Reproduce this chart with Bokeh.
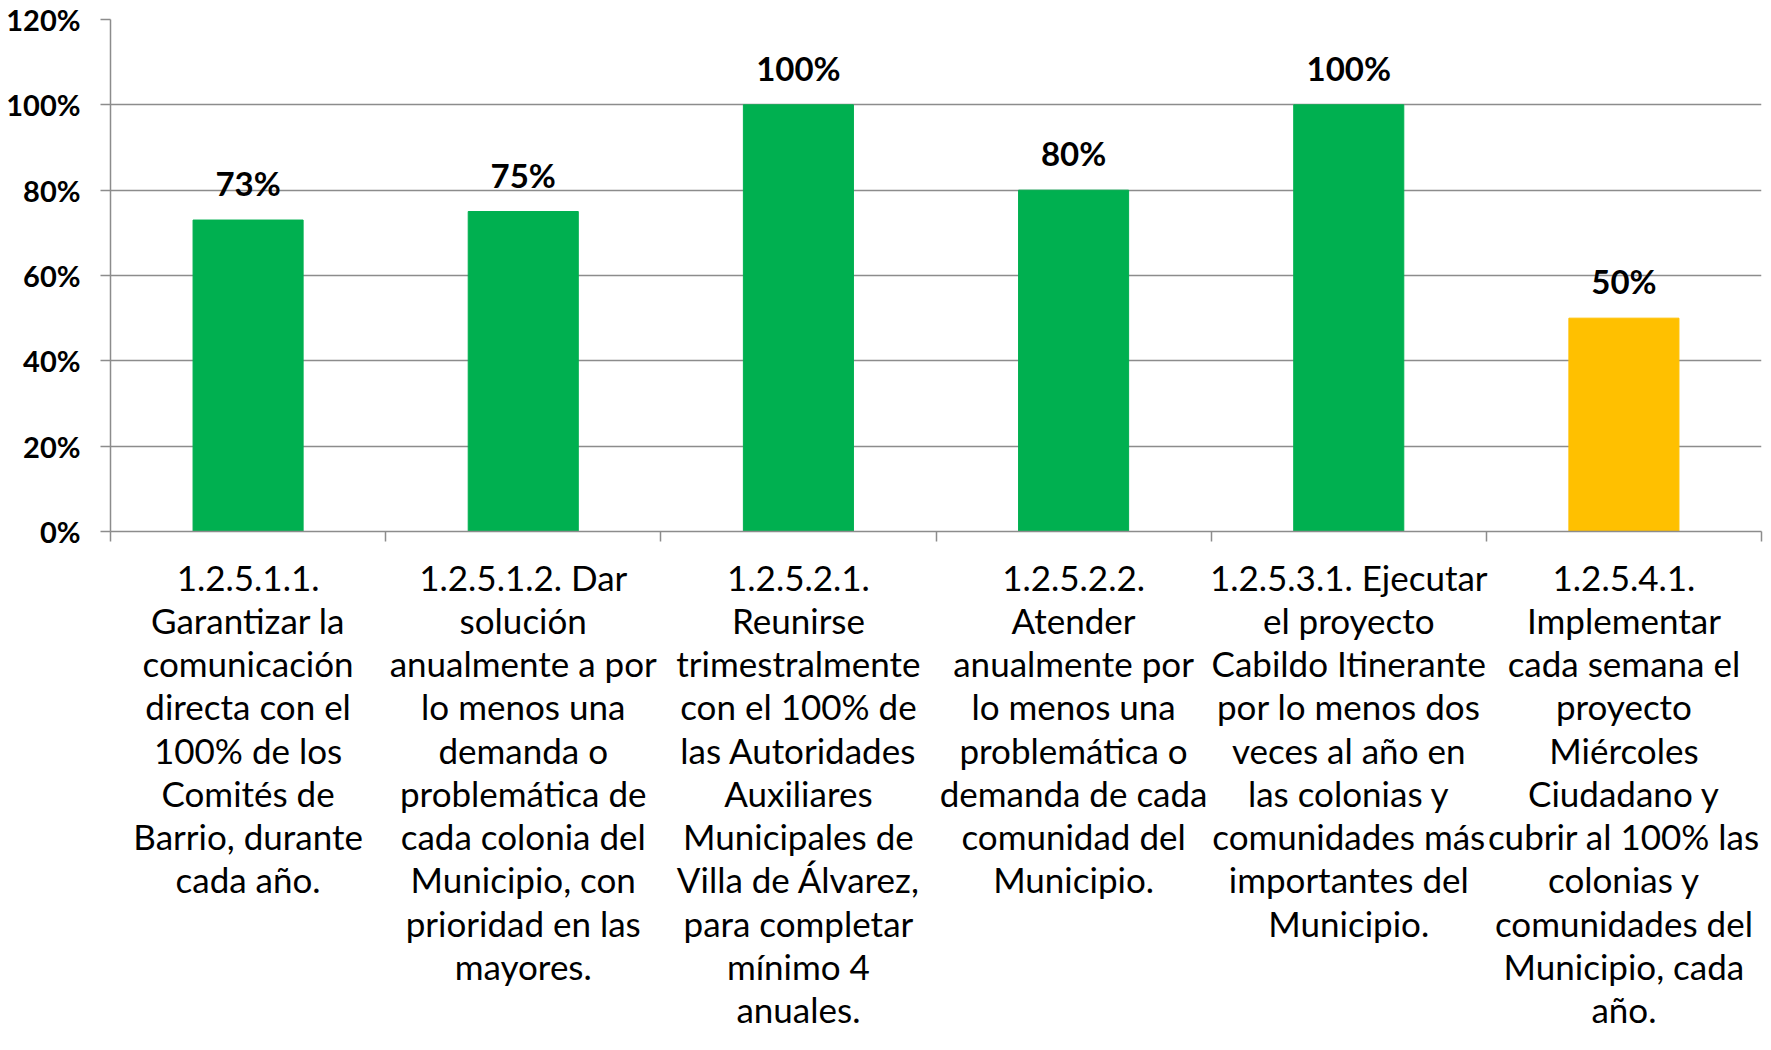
from bokeh.plotting import figure
from bokeh.models import ColumnDataSource, FixedTicker, NumeralTickFormatter, Range1d
from bokeh.core.properties import value
from bokeh.embed import file_html
from bokeh.resources import INLINE

categories = [
    "1.2.5.1.1.\nGarantizar la\ncomunicación\ndirecta con el\n100% de los\nComités de\nBarrio, durante\ncada año.",
    "1.2.5.1.2. Dar\nsolución\nanualmente a por\nlo menos una\ndemanda o\nproblemática de\ncada colonia del\nMunicipio, con\nprioridad en las\nmayores.",
    "1.2.5.2.1.\nReunirse\ntrimestralmente\ncon el 100% de\nlas Autoridades\nAuxiliares\nMunicipales de\nVilla de Álvarez,\npara completar\nmínimo 4\nanuales.",
    "1.2.5.2.2.\nAtender\nanualmente por\nlo menos una\nproblemática o\ndemanda de cada\ncomunidad del\nMunicipio.",
    "1.2.5.3.1. Ejecutar\nel proyecto\nCabildo Itinerante\npor lo menos dos\nveces al año en\nlas colonias y\ncomunidades más\nimportantes del\nMunicipio.",
    "1.2.5.4.1.\nImplementar\ncada semana el\nproyecto\nMiércoles\nCiudadano y\ncubrir al 100% las\ncolonias y\ncomunidades del\nMunicipio, cada\naño.",
]
values = [0.73, 0.75, 1.00, 0.80, 1.00, 0.50]
bar_colors = ["#00B050", "#00B050", "#00B050", "#00B050", "#00B050", "#FFC000"]
y_ticks = [0.0, 0.2, 0.4, 0.6, 0.8, 1.0, 1.2]

FONT = "Lato"
GRID = "#8C8C8C"

n = len(categories)
xs = list(range(n))
labels = [f"{round(v * 100)}%" for v in values]
src = ColumnDataSource(dict(x=xs, top=values, color=bar_colors, label=labels))

p = figure(width=1763, height=1050, output_backend="svg", toolbar_location=None,
           x_range=Range1d(-0.5, n - 0.5), y_range=Range1d(0, 1.2),
           min_border_left=110, min_border_right=2, min_border_top=19, min_border_bottom=519)
p.outline_line_color = None
p.background_fill_color = "white"
p.border_fill_color = "white"

p.vbar(x="x", top="top", width=0.4, bottom=0, color="color", source=src)
p.text(x="x", y="top", text="label", source=src, text_align="center", text_baseline="bottom",
       y_offset=-17, text_font=value(FONT), text_font_style="bold", text_font_size="33px",
       text_color="black")

# y axis
p.yaxis.ticker = FixedTicker(ticks=y_ticks)
p.yaxis.formatter = NumeralTickFormatter(format="0%")
p.yaxis.major_label_text_font = FONT
p.yaxis.major_label_text_font_style = "bold"
p.yaxis.major_label_text_font_size = "29px"
p.yaxis.major_label_text_color = "black"
p.yaxis.major_tick_out = 10
p.yaxis.major_tick_in = 0
p.yaxis.minor_tick_line_color = None
p.yaxis.major_tick_line_color = GRID
p.yaxis.axis_line_color = GRID
p.yaxis.axis_line_width = 1.5
p.yaxis.major_tick_line_width = 1.5
p.yaxis.major_label_standoff = 20

# x axis
p.xaxis.ticker = FixedTicker(ticks=xs, minor_ticks=[i - 0.5 for i in range(n + 1)])
p.xaxis.major_label_overrides = {i: c for i, c in enumerate(categories)}
p.xaxis.major_tick_line_color = None
p.xaxis.major_tick_out = 0
p.xaxis.major_tick_in = 0
p.xaxis.minor_tick_out = 10
p.xaxis.minor_tick_in = 0
p.xaxis.minor_tick_line_color = GRID
p.xaxis.minor_tick_line_width = 1.5
p.xaxis.axis_line_color = GRID
p.xaxis.axis_line_width = 1.5
p.xaxis.major_label_text_font = FONT
p.xaxis.major_label_text_font_size = "35px"
p.xaxis.major_label_text_color = "black"
p.xaxis.major_label_text_line_height = 1.03
p.xaxis.major_label_standoff = 14
p.xaxis.major_label_orientation = "horizontal"

p.xgrid.grid_line_color = None
p.ygrid.ticker = FixedTicker(ticks=y_ticks)
p.ygrid.grid_line_color = GRID
p.ygrid.grid_line_width = 1.5

open("out.html", "w").write(file_html(p, INLINE))
